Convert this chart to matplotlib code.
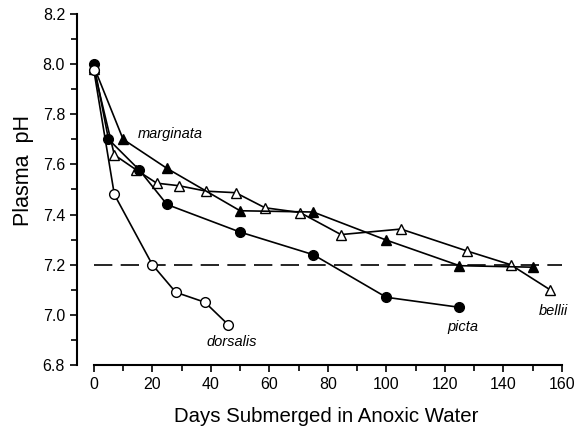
import numpy as np
import matplotlib
matplotlib.use("Agg")
import matplotlib.pyplot as plt
from matplotlib.ticker import MultipleLocator

plt.rcParams['font.family'] = ['Liberation Sans', 'DejaVu Sans']

# days submerged / plasma pH for each species
dorsalis_x = [0, 7, 20, 28, 38, 46]
dorsalis_y = [7.975, 7.48, 7.20, 7.09, 7.05, 6.96]

picta_x = [0, 5, 15.5, 25, 50, 75, 100, 125]
picta_y = [8.00, 7.70, 7.578, 7.44, 7.33, 7.24, 7.07, 7.03]

marginata_x = [0, 10, 25, 50, 75, 100, 125, 150]
marginata_y = [7.99, 7.70, 7.584, 7.415, 7.41, 7.298, 7.196, 7.19]

bellii_x = [0, 7, 14.5, 21.5, 29, 38.5, 48.5, 58.5, 70.5, 84.5, 105, 127.5, 142.5, 156]
bellii_y = [7.98, 7.638, 7.578, 7.525, 7.515, 7.493, 7.487, 7.427, 7.408, 7.32, 7.342, 7.255, 7.2, 7.10]

threshold = 7.2

fig = plt.figure(figsize=(5.87, 4.34), dpi=100)
ax = fig.add_axes([0.131, 0.159, 0.826, 0.809])

ms = 7
lw = 1.2
ax.plot(bellii_x, bellii_y, '-^', color='black', mfc='white', mec='black', ms=ms, lw=lw, zorder=3)
ax.plot(marginata_x, marginata_y, '-^', color='black', mfc='black', ms=ms, lw=lw, zorder=3)
ax.plot(picta_x, picta_y, '-o', color='black', mfc='black', ms=ms, lw=lw, zorder=3)
ax.plot(dorsalis_x, dorsalis_y, '-o', color='black', mfc='white', mec='black', ms=ms, lw=lw, zorder=4)

ax.plot([0, 160], [threshold, threshold], color='black', lw=1.2, dashes=(11, 5), zorder=2)

ax.text(15, 7.72, 'marginata', style='italic', fontsize=10.5, va='center', ha='left')
ax.text(38.5, 6.89, 'dorsalis', style='italic', fontsize=10.5, va='center', ha='left')
ax.text(126.2, 6.95, 'picta', style='italic', fontsize=10.5, va='center', ha='center')
ax.text(157, 7.015, 'bellii', style='italic', fontsize=10.5, va='center', ha='center')

ax.set_xlim(-5.8, 160)
ax.set_ylim(6.8, 8.2)
ax.xaxis.set_major_locator(MultipleLocator(20))
ax.xaxis.set_minor_locator(MultipleLocator(10))
ax.yaxis.set_major_locator(MultipleLocator(0.2))
ax.yaxis.set_minor_locator(MultipleLocator(0.1))
ax.yaxis.set_major_formatter(matplotlib.ticker.FormatStrFormatter('%.1f'))

for s in ['top', 'right']:
    ax.spines[s].set_visible(False)
ax.spines['bottom'].set_bounds(0, 160)
ax.spines['left'].set_bounds(6.8, 8.2)
ax.spines['bottom'].set_linewidth(1.5)
ax.spines['left'].set_linewidth(1.5)
ax.tick_params(which='both', direction='out', width=1.2, labelsize=11.5)
ax.tick_params(which='major', length=5)
ax.tick_params(which='minor', length=4)

ax.set_xlabel('Days Submerged in Anoxic Water', fontsize=14.7)
ax.set_ylabel('Plasma  pH', fontsize=15.5)
ax.xaxis.set_label_coords(0.515, -0.12)
ax.yaxis.set_label_coords(-0.088, 0.553)

fig.savefig('out.png', dpi=100)
